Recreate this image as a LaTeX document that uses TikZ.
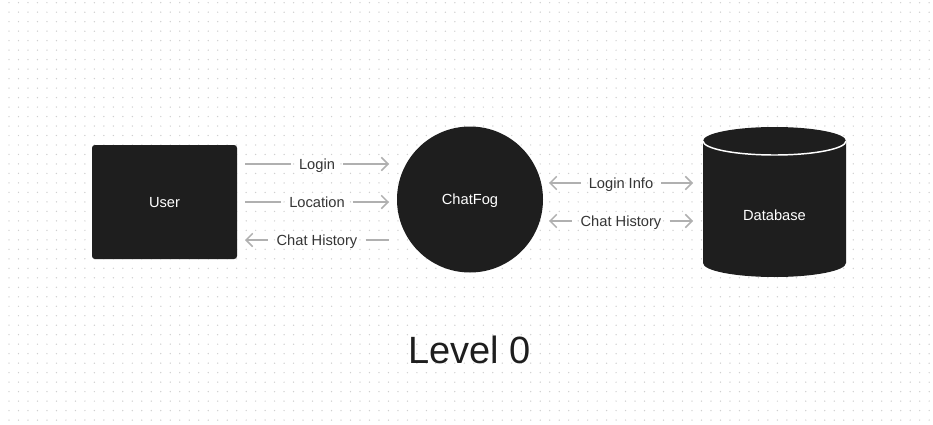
\documentclass[tikz,border=0pt]{standalone}
\usepackage{fontspec}
\setmainfont{Liberation Sans}
\usetikzlibrary{arrows.meta,positioning}
\definecolor{ink}{HTML}{1E1E1E}
\definecolor{wire}{HTML}{B0B0B0}
\definecolor{speck}{HTML}{CFCFCF}

\begin{document}
\begin{tikzpicture}[x=0.75pt,y=0.75pt,
    block/.style={fill=ink,text=white,inner sep=0pt,text depth=0pt,font=\fontsize{11}{13}\selectfont},
    tag/.style={inner xsep=6pt,text depth=0pt,text=ink!90,font=\fontsize{11}{13}\selectfont},
    flow/.style={draw=wire,line width=1.1pt},
    >={Straight Barb[length=5pt,width=10pt,line width=1.1pt]}]
                \fill[white] (0,0) rectangle (933,-425);
                \useasboundingbox (0,0) rectangle (933,-425);
                \foreach \i in {0,...,97}
                    \foreach \j in {0,...,44}
                        \fill[speck] (9+9.486*\i,-2.7-9.486*\j) circle[radius=0.55pt];

                \node[block,rectangle,rounded corners=2.2pt,minimum width=108.75pt,minimum height=85.5pt] (user) at (164.5,-202) {User};
                \node[block,circle,minimum size=109.5pt] (chatfog) at (470,-199.5) {ChatFog};

                % database drum
                \fill[ink] (703,-141) -- (703,-263) arc[start angle=180,end angle=360,x radius=71.5,y radius=14]
                    -- (846,-141) arc[start angle=0,end angle=180,x radius=71.5,y radius=14] -- cycle;
                \draw[white,line width=1.1pt] (703,-141) arc[start angle=180,end angle=360,x radius=71.5,y radius=14];
                \node[text=white,text depth=0pt,font=\fontsize{11}{13}\selectfont] (db) at (774.5,-215) {Database};

                \node[font=\fontsize{28.5}{32}\selectfont,text=ink,anchor=base] (level) at (469.5,-363) {Level 0};

                % user <-> chatfog
                \coordinate (a1) at (245,-164); \coordinate (b1) at (389,-164);
                \coordinate (a2) at (245,-202); \coordinate (b2) at (389,-202);
                \coordinate (a3) at (245,-240); \coordinate (b3) at (389,-240);
                \node[tag] (login) at (317,-164) {Login};
                \node[tag] (loc) at (317,-202) {Location};
                \node[tag] (histA) at (317,-240) {Chat History};
                \draw[flow] (a1) -- (login.west |- a1);
                \draw[flow,->] (login.east |- a1) -- (b1);
                \draw[flow] (a2) -- (loc.west |- a2);
                \draw[flow,->] (loc.east |- a2) -- (b2);
                \draw[flow,<-] (a3) -- (histA.west |- a3);
                \draw[flow] (histA.east |- a3) -- (b3);

                % chatfog <-> db
                \coordinate (c1) at (549,-183); \coordinate (d1) at (693,-183);
                \coordinate (c2) at (549,-221); \coordinate (d2) at (693,-221);
                \node[tag] (info) at (621,-183) {Login Info};
                \node[tag] (histB) at (621,-221) {Chat History};
                \draw[flow,<-] (c1) -- (info.west |- c1);
                \draw[flow,->] (info.east |- c1) -- (d1);
                \draw[flow,<-] (c2) -- (histB.west |- c2);
                \draw[flow,->] (histB.east |- c2) -- (d2);
            \end{tikzpicture}
\end{document}
